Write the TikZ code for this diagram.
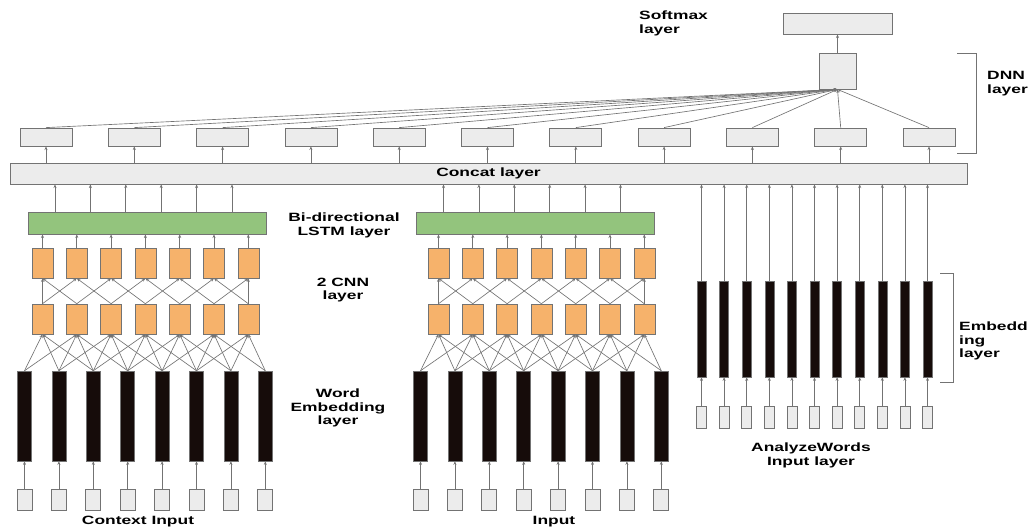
\documentclass[tikz,border=0pt]{standalone}
\usepackage{fontspec}
\setmainfont{Liberation Sans}[FakeStretch=1.45]
\usetikzlibrary{arrows.meta}
\definecolor{boxgray}{RGB}{236,236,236}
\definecolor{edgegray}{RGB}{115,115,115}
\definecolor{cnnorange}{RGB}{246,178,107}
\definecolor{lstmgreen}{RGB}{147,196,125}
\definecolor{barblack}{RGB}{22,12,10}
\tikzset{
  arr/.style={draw=edgegray, line width=0.65pt, -{Stealth[length=3.6pt,width=3pt]}},
  hid/.style={draw=edgegray, fill=boxgray, line width=0.8pt, inner sep=0pt, minimum width=52pt, minimum height=18pt},
  cnn/.style={draw=edgegray, fill=cnnorange, line width=0.6pt, inner sep=0pt, minimum width=21pt, minimum height=30pt},
  lstm/.style={draw=edgegray, fill=lstmgreen, line width=0.8pt, inner sep=0pt, minimum width=238pt, minimum height=22pt},
  wbar/.style={draw=edgegray, fill=barblack, line width=0.5pt, inner sep=0pt, minimum width=14pt, minimum height=90pt},
  inbox/.style={draw=edgegray, fill=boxgray, line width=0.7pt, inner sep=0pt, minimum width=15pt, minimum height=21pt},
  lbl/.style={font=\bfseries\fontsize{12}{13.8}\selectfont, inner sep=0pt},
  brace/.style={draw=edgegray, line width=0.8pt}
}
\begin{document}
\begin{tikzpicture}[x=1pt,y=-1pt]
\useasboundingbox (0,0) rectangle (1031,531);

% softmax and dnn
\node[hid, minimum width=109pt, minimum height=21pt] (soft) at (837.5,23.5) {};
\node[hid, minimum width=37pt, minimum height=36pt] (dnn) at (837.5,71) {};
\draw[arr] (dnn) -- (soft);
\node[lbl, anchor=west, align=left] (softlbl) at (639,23.5) {Softmax\\layer};
\node[lbl, anchor=west, align=left] (dnnlbl) at (987,84) {DNN\\layer};
\draw[brace] (957,53) -- (976,53) -- (976,153) -- (957,153);

% concat layer
\node[hid, lbl, minimum width=957pt, minimum height=21pt] (concat) at (488.5,173.5) {Concat layer};

\foreach \i in {1,...,11}{
  \pgfmathsetmacro\hx{46+88.3*(\i-1)}
  \node[hid] (h\i) at (\hx,137) {};
  \draw[arr] (concat.north -| h\i) -- (h\i.south);
  \draw[arr] (h\i.north) -- (dnn.south);
}

% context input / input branches
\foreach \g/\ox/\lx in {A/0/0,B/396/388.5}{
  \foreach \j in {1,...,8}{
    \pgfmathsetmacro\bx{24.5+34.4*(\j-1)+\ox}
    \node[wbar] (b\g\j) at (\bx,416) {};
    \node[inbox] (i\g\j) at (\bx,499.5) {};
    \draw[arr] (i\g\j) -- (b\g\j);
  }
  \foreach \i in {1,...,7}{
    \pgfmathsetmacro\cx{42.5+34.3*(\i-1)+\ox}
    \node[cnn] (l\g\i) at (\cx,319) {};
    \node[cnn] (u\g\i) at (\cx,263) {};
  }
  \node[lstm] (lstm\g) at (147+\lx,223) {};
  \foreach \i in {1,...,7}{
    \draw[arr] (u\g\i.north) -- (u\g\i.north |- lstm\g.south);
    \foreach \d in {-1,0,1,2}{
      \pgfmathtruncatemacro\j{\i+\d}
      \ifnum\j>0 \ifnum\j<9
        \draw[arr] (b\g\j.north) -- (l\g\i.south);
      \fi\fi
    }
  }
  \foreach \i in {1,...,6}{
    \pgfmathtruncatemacro\n{\i+1}
    \draw[arr] (l\g\i.north) -- (u\g\n.south);
    \draw[arr] (l\g\n.north) -- (u\g\i.south);
  }
  \draw[arr] (l\g1) -- (u\g1);
  \draw[arr] (l\g7) -- (u\g7);
  \foreach \k in {0,...,5}{
    \pgfmathsetmacro\ax{55+35.4*\k+\lx}
    \draw[arr] (lstm\g.north -| \ax,0) -- (concat.south -| \ax,0);
  }
}

\node[lbl, align=center] (lstmlbl) at (344,225) {Bi-directional\\LSTM layer};
\node[lbl, align=center] (cnnlbl) at (343,290) {2 CNN\\layer};
\node[lbl, align=center] (embdlbl) at (338,408) {Word\\Embedding\\layer};
\node[lbl] (ctxlbl) at (138,522) {Context Input};
\node[lbl] (inlbl) at (554,522) {Input};

% analyzewords branch
\foreach \k in {1,...,11}{
  \pgfmathsetmacro\wx{701.5+22.6*(\k-1)}
  \node[wbar, minimum width=9pt, minimum height=96pt] (aw\k) at (\wx,329) {};
  \node[inbox, minimum width=10pt, minimum height=22pt] (ai\k) at (\wx,417) {};
  \draw[arr] (ai\k) -- (aw\k);
  \draw[arr] (aw\k) -- (aw\k |- concat.south);
}
\draw[brace] (940,273) -- (953,273) -- (953,382) -- (940,382);
\node[lbl, anchor=west, align=left] (awemb) at (959,341) {Embedd\\ing\\layer};
\node[lbl, align=center] (awlbl) at (811,455) {AnalyzeWords\\Input layer};
\end{tikzpicture}
\end{document}
